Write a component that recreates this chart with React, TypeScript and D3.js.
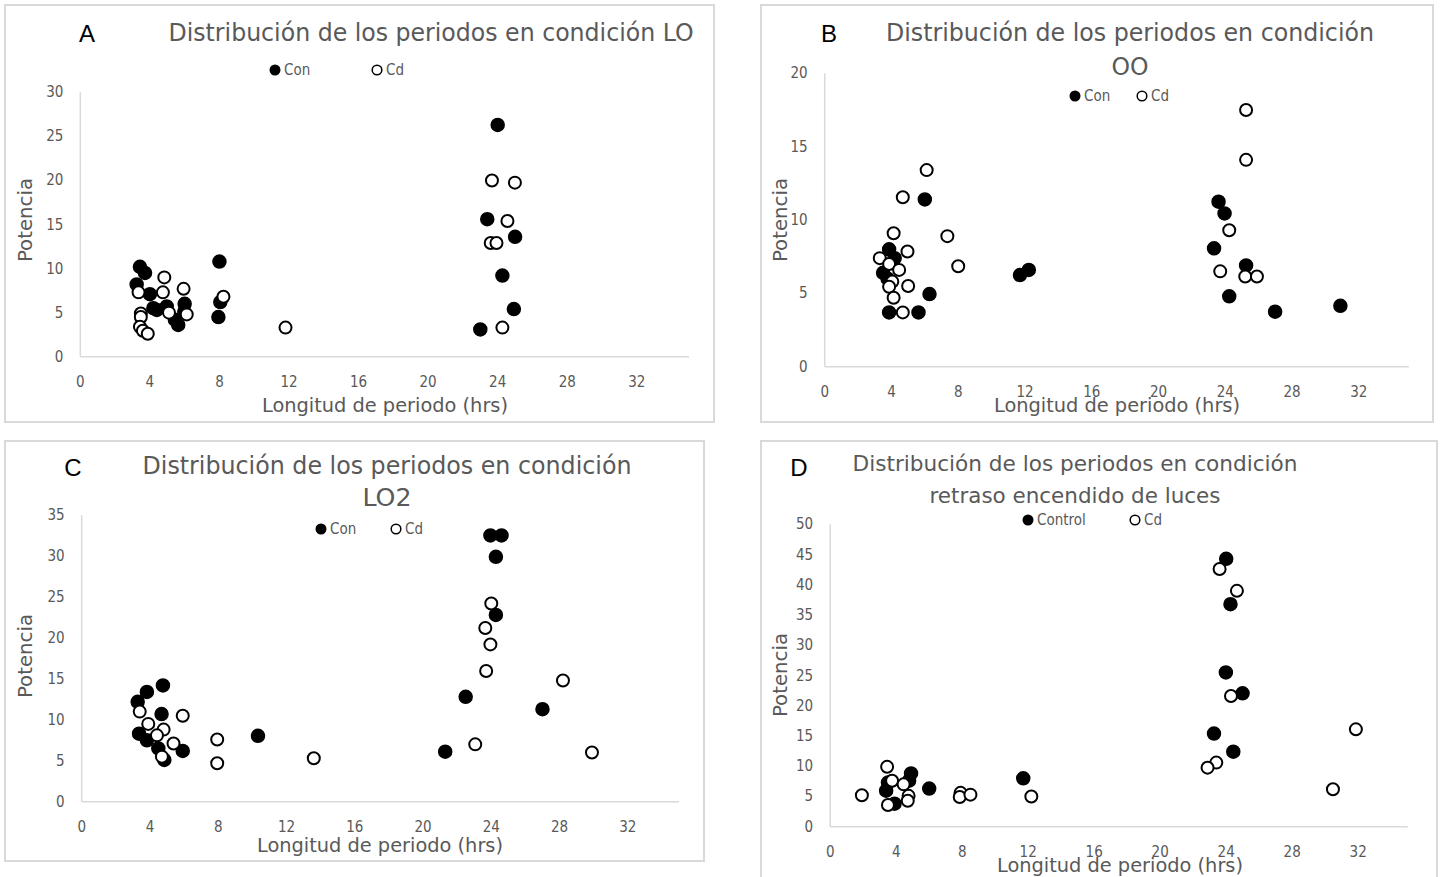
// Four-panel scatter of period length vs. power (Con vs Cd), drawn with D3 scales in JSX.

import * as d3 from "d3";

// ─── Data ─────────────────────────────────────────────────────────────────────

type Pt = [number, number];

const xTickValues = [0, 4, 8, 12, 16, 20, 24, 28, 32];

const loCon: Pt[] = [
  [3.43, 10.2], [3.72, 9.5], [3.24, 8.2], [4.0, 7.1], [4.2, 5.5], [4.97, 5.7],
  [4.4, 5.3], [5.44, 4.2], [5.63, 3.6], [6.0, 6.0], [5.98, 5.1],
  [8.0, 10.8], [8.05, 6.2], [7.94, 4.5],
  [24.0, 26.3], [23.4, 15.6], [25.0, 13.6], [24.27, 9.2], [24.93, 5.4], [23.0, 3.1],
];
const loCd: Pt[] = [
  [3.35, 7.3], [3.48, 4.9], [3.48, 4.5], [3.43, 3.4], [3.6, 2.95], [3.88, 2.6],
  [4.83, 9.0], [4.75, 7.3], [5.94, 7.7], [5.1, 5.0], [6.12, 4.8], [8.23, 6.8],
  [11.8, 3.3], [23.67, 20.0], [24.99, 19.75], [23.6, 12.9], [23.93, 12.9],
  [24.56, 15.4], [24.27, 3.3],
];

const ooCon: Pt[] = [
  [3.86, 8.0], [4.19, 7.4], [3.5, 6.4], [3.77, 6.0], [3.86, 3.7], [5.62, 3.7],
  [6.0, 11.4], [6.28, 4.95], [11.7, 6.25], [12.23, 6.6],
  [23.6, 11.25], [23.96, 10.45], [23.33, 8.07], [25.25, 6.9], [24.24, 4.8],
  [26.99, 3.75], [30.9, 4.15],
];
const ooCd: Pt[] = [
  [6.11, 13.4], [4.68, 11.55], [4.13, 9.1], [7.35, 8.9], [4.96, 7.85], [3.3, 7.4],
  [3.86, 7.0], [4.46, 6.6], [8.0, 6.85], [4.05, 5.8], [3.86, 5.45], [5.0, 5.5],
  [4.13, 4.7], [4.68, 3.7],
  [25.25, 17.5], [25.25, 14.1], [24.24, 9.3], [23.7, 6.5], [25.2, 6.15], [25.9, 6.15],
];

const lo2Con: Pt[] = [
  [3.28, 12.2], [3.82, 13.4], [4.76, 14.2], [4.68, 10.7], [3.36, 8.3], [3.82, 7.5],
  [4.49, 6.5], [4.84, 5.1], [5.92, 6.2], [10.33, 8.05],
  [21.3, 6.1], [22.5, 12.8], [23.95, 32.5], [24.6, 32.5], [24.27, 29.9],
  [24.27, 22.8], [27.0, 11.3],
];
const lo2Cd: Pt[] = [
  [3.4, 11.0], [3.9, 9.5], [4.8, 8.8], [4.41, 8.1], [5.38, 7.1], [4.7, 5.5],
  [5.92, 10.5], [7.94, 7.6], [7.94, 4.7], [13.6, 5.3],
  [23.06, 7.0], [23.7, 15.95], [24.0, 24.2], [23.65, 21.2], [23.95, 19.2],
  [28.2, 14.8], [29.9, 6.0],
];

const retCon: Pt[] = [
  [24.0, 44.3], [24.26, 36.8], [23.98, 25.5], [24.99, 22.06], [23.26, 15.4],
  [24.43, 12.4], [11.7, 8.0], [6.0, 6.3], [4.9, 8.8], [4.78, 7.6], [3.39, 5.96],
  [3.5, 7.3], [3.9, 3.8],
];
const retCd: Pt[] = [
  [1.92, 5.2], [3.45, 9.9], [3.75, 7.6], [4.45, 7.0], [4.75, 5.1], [4.7, 4.3],
  [3.5, 3.6], [7.9, 5.6], [7.85, 4.9], [8.5, 5.3], [12.19, 5.0],
  [23.6, 42.6], [24.65, 39.0], [24.29, 21.6], [23.4, 10.6], [22.87, 9.76],
  [30.47, 6.2], [31.86, 16.1],
];

// ─── Layout ───────────────────────────────────────────────────────────────────

const GRAY = "#595959";
const AXIS = "#d9d9d9";
const FONT = "'Liberation Sans Narrow', 'DejaVu Sans Condensed', 'Open Sans', sans-serif";

interface Panel {
  letter: string;
  letterPos: [number, number];
  box: [number, number, number, number];
  plot: { left: number; right: number; bottom: number; top: number };
  yMax: number;
  yStep: number;
  title: { text: string; width: number }[];
  titleX: number;
  titleY: number[];
  titleSize: number;
  legend: { con: number; cd: number; y: number; conLabel: string };
  xTitle: [number, number];
  yTitle: [number, number];
  con: Pt[];
  cd: Pt[];
}

const panels: Panel[] = [
  {
    letter: "A", letterPos: [87, 33], box: [5, 5, 714, 422],
    plot: { left: 80.3, right: 689, bottom: 356.7, top: 92.3 },
    yMax: 30, yStep: 5,
    title: [{ text: "Distribución de los periodos en condición LO", width: 525 }],
    titleX: 431, titleY: [33], titleSize: 24,
    legend: { con: 275, cd: 377, y: 70, conLabel: "Con" },
    xTitle: [385, 405], yTitle: [25, 220],
    con: loCon, cd: loCd,
  },
  {
    letter: "B", letterPos: [829, 33], box: [761, 5, 1433, 422],
    plot: { left: 824.7, right: 1408.8, bottom: 366.7, top: 73.3 },
    yMax: 20, yStep: 5,
    title: [
      { text: "Distribución de los periodos en condición", width: 488 },
      { text: "OO", width: 37 },
    ],
    titleX: 1130, titleY: [33, 67], titleSize: 24,
    legend: { con: 1075, cd: 1142, y: 96, conLabel: "Con" },
    xTitle: [1117, 405], yTitle: [780, 220],
    con: ooCon, cd: ooCd,
  },
  {
    letter: "C", letterPos: [73, 467], box: [5, 441, 704, 861],
    plot: { left: 81.7, right: 679, bottom: 801.7, top: 515 },
    yMax: 35, yStep: 5,
    title: [
      { text: "Distribución de los periodos en condición", width: 489 },
      { text: "LO2", width: 49 },
    ],
    titleX: 387, titleY: [466, 498], titleSize: 24,
    legend: { con: 321, cd: 396, y: 529, conLabel: "Con" },
    xTitle: [380, 845], yTitle: [25, 656],
    con: lo2Con, cd: lo2Cd,
  },
  {
    letter: "D", letterPos: [799, 467], box: [761, 441, 1437, 885],
    plot: { left: 830.2, right: 1407.7, bottom: 826.7, top: 524.3 },
    yMax: 50, yStep: 5,
    title: [
      { text: "Distribución de los periodos en condición", width: 445 },
      { text: "retraso encendido de luces", width: 291 },
    ],
    titleX: 1075, titleY: [463, 495], titleSize: 22,
    legend: { con: 1028, cd: 1135, y: 520, conLabel: "Control" },
    xTitle: [1120, 865], yTitle: [780, 675],
    con: retCon, cd: retCd,
  },
];

// ─── Panel ────────────────────────────────────────────────────────────────────

function ScatterPanel({ p }: { p: Panel }) {
  const x = d3.scaleLinear().domain([0, 35]).range([p.plot.left, p.plot.right]);
  const y = d3.scaleLinear().domain([0, p.yMax]).range([p.plot.bottom, p.plot.top]);
  const yTicks = d3.range(0, p.yMax + 0.001, p.yStep);
  const [bx0, by0, bx1, by1] = p.box;

  return (
    <g>
      <rect x={bx0} y={by0} width={bx1 - bx0} height={by1 - by0}
        fill="#fff" stroke={AXIS} strokeWidth={2} />

      {/* axes */}
      <line x1={x(0)} x2={x(0)} y1={y(0)} y2={y(p.yMax)} stroke={AXIS} strokeWidth={1.5} />
      <line x1={x(0)} x2={x(35)} y1={y(0)} y2={y(0)} stroke={AXIS} strokeWidth={1.5} />

      {yTicks.map((t) => (
        <text key={"y" + t} x={x(0) - 17} y={y(t)} textAnchor="end"
          dominantBaseline="central" fontSize={15} fill={GRAY} fontFamily={FONT}>
          {t}
        </text>
      ))}
      {xTickValues.map((t) => (
        <text key={"x" + t} x={x(t)} y={y(0) + 25} textAnchor="middle"
          dominantBaseline="central" fontSize={15} fill={GRAY} fontFamily={FONT}>
          {t}
        </text>
      ))}

      {/* titles */}
      <text x={p.letterPos[0]} y={p.letterPos[1]} textAnchor="middle" dominantBaseline="central"
        fontSize={24} fill="#000" fontFamily="'Liberation Sans', Arial, sans-serif">
        {p.letter}
      </text>
      {p.title.map((line, i) => (
        <text key={i} x={p.titleX} y={p.titleY[i]} textAnchor="middle" dominantBaseline="central"
          fontSize={p.titleSize} fill={GRAY} fontFamily={FONT}
          textLength={line.width} lengthAdjust="spacingAndGlyphs">
          {line.text}
        </text>
      ))}
      <text x={p.xTitle[0]} y={p.xTitle[1]} textAnchor="middle" dominantBaseline="central"
        fontSize={19} fill={GRAY} fontFamily={FONT} textLength={246} lengthAdjust="spacingAndGlyphs">
        Longitud de periodo (hrs)
      </text>
      <text transform={`translate(${p.yTitle[0]},${p.yTitle[1]}) rotate(-90)`} textAnchor="middle"
        dominantBaseline="central" fontSize={20} fill={GRAY} fontFamily={FONT}
        textLength={84} lengthAdjust="spacingAndGlyphs">
        Potencia
      </text>

      {/* legend */}
      <circle cx={p.legend.con} cy={p.legend.y} r={5.5} fill="#000" />
      <text x={p.legend.con + 9} y={p.legend.y} dominantBaseline="central" fontSize={15}
        fill={GRAY} fontFamily={FONT}>{p.legend.conLabel}</text>
      <circle cx={p.legend.cd} cy={p.legend.y} r={4.8} fill="#fff" stroke="#000" strokeWidth={1.5} />
      <text x={p.legend.cd + 9} y={p.legend.y} dominantBaseline="central" fontSize={15}
        fill={GRAY} fontFamily={FONT}>Cd</text>

      {/* marks */}
      {p.con.map((d, i) => (
        <circle key={"c" + i} cx={x(d[0])} cy={y(d[1])} r={6.5} fill="#000" stroke="#000" strokeWidth={1.5} />
      ))}
      {p.cd.map((d, i) => (
        <circle key={"d" + i} cx={x(d[0])} cy={y(d[1])} r={6} fill="#fff" stroke="#000" strokeWidth={2} />
      ))}
    </g>
  );
}

export default function App() {
  return (
    <svg width={1440} height={877} style={{ position: "absolute", left: 0, top: 0, background: "#fff" }}>
      {panels.map((p) => (
        <ScatterPanel key={p.letter} p={p} />
      ))}
    </svg>
  );
}
